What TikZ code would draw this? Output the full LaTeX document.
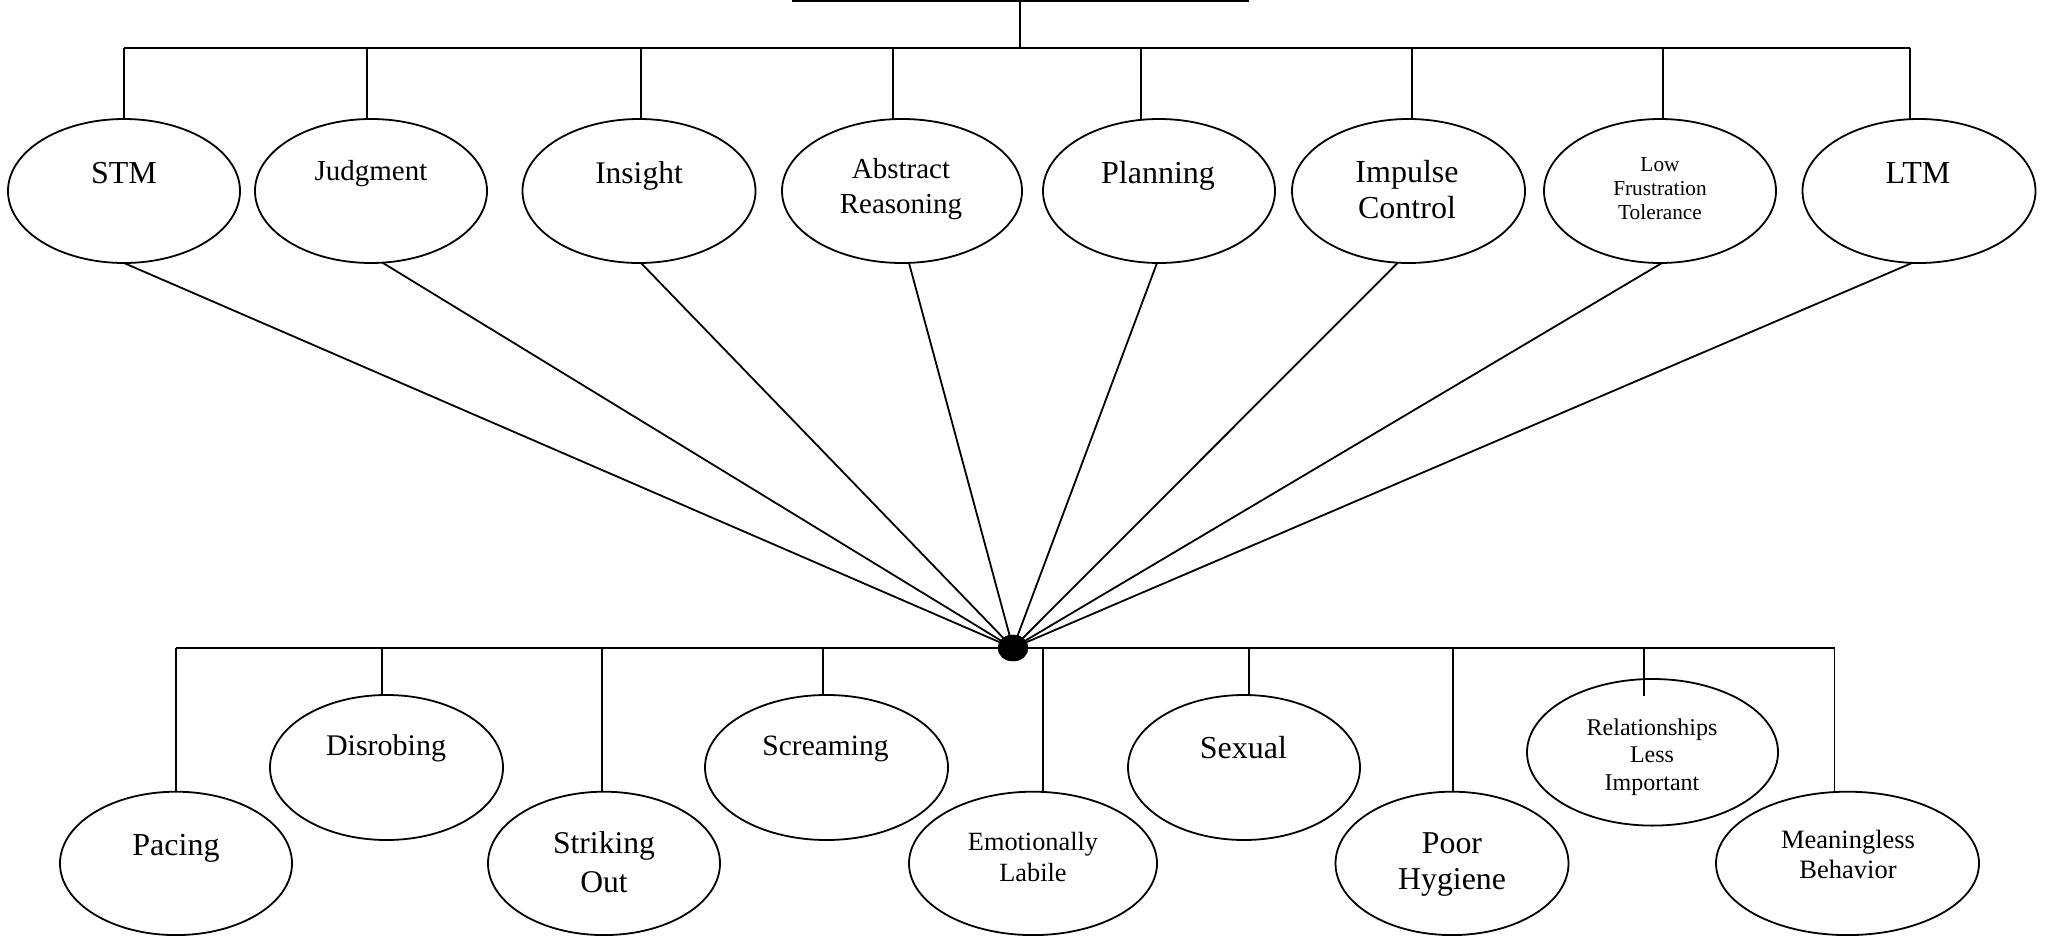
\documentclass[tikz,border=0pt]{standalone}
\usepackage{fontspec}
\setmainfont{Liberation Serif}
\usetikzlibrary{shapes.geometric,calc}
\tikzset{
  oval/.style={draw, ellipse, line width=1.8pt, inner sep=0pt, outer sep=0pt, fill=white},
  lbl/.style={inner sep=0pt, outer sep=0pt, align=center},
  conn/.style={line width=1.8pt},
  fs/.style n args={2}{font=\fontsize{#1}{#2}\selectfont},
}
\begin{document}
\begin{tikzpicture}[x=1pt,y=-1pt]
\useasboundingbox (0,0) rectangle (2046,936);

% ---------- top ellipses ----------
\node[oval, minimum width=232pt, minimum height=144pt] (stm)  at (124,191) {};
\node[oval, minimum width=232pt, minimum height=144pt] (judg) at (371,191) {};
\node[oval, minimum width=233pt, minimum height=144pt] (ins)  at (639,191) {};
\node[oval, minimum width=240pt, minimum height=144pt] (abs)  at (902,191) {};
\node[oval, minimum width=232pt, minimum height=144pt] (plan) at (1159,191) {};
\node[oval, minimum width=233pt, minimum height=144pt] (imp)  at (1408.5,191) {};
\node[oval, minimum width=232pt, minimum height=144pt] (low)  at (1660,191) {};
\node[oval, minimum width=233pt, minimum height=144pt] (ltm)  at (1919,191) {};

% ---------- top texts ----------
\node[lbl, fs={32}{38}, anchor=base] (stm-t)  at (124,183.7) {STM};
\node[lbl, fs={29}{35}, anchor=base] (judg-t) at (371,180.3) {Judgment};
\node[lbl, fs={31.5}{37}, anchor=base] (ins-t) at (639,183.7) {Insight};
\node[lbl, fs={29}{35}] (abs-t) at (901,189.5) {Abstract\\Reasoning};
\node[lbl, fs={32}{36.7}, anchor=base] (plan-t) at (1158,183.7) {Planning};
\node[lbl, fs={32}{36.7}] (imp-t) at (1407,189.5) {Impulse\\Control};
\node[lbl, fs={21.3}{24}] (low-t) at (1660,189) {Low\\Frustration\\Tolerance};
\node[lbl, fs={32}{38}, anchor=base] (ltm-t) at (1918,183.7) {LTM};

% ---------- bottom ellipses ----------
\node[oval, minimum width=232pt, minimum height=143.4pt] (pac)  at (176,863.4) {};
\node[oval, minimum width=233pt, minimum height=145pt]   (dis)  at (386.5,767.5) {};
\node[oval, minimum width=232pt, minimum height=143.4pt] (str)  at (604,863.4) {};
\node[oval, minimum width=243pt, minimum height=145pt]   (scr)  at (826.5,767.5) {};
\node[oval, minimum width=248pt, minimum height=143.4pt] (emo)  at (1033,863.4) {};
\node[oval, minimum width=232pt, minimum height=145pt]   (sex)  at (1244,767.5) {};
\node[oval, minimum width=233pt, minimum height=143.4pt] (poor) at (1452,863.4) {};
\node[oval, minimum width=251pt, minimum height=146.6pt] (rel)  at (1652.5,752.3) {};
\node[oval, minimum width=263pt, minimum height=143.4pt] (mea)  at (1847.5,863.4) {};

% ---------- bottom texts ----------
\node[lbl, fs={32}{38}, anchor=base] (pac-t) at (176,855) {Pacing};
\node[lbl, fs={30}{36}, anchor=base] (dis-t) at (386,755) {Disrobing};
\node[lbl, fs={31.6}{38.3}] (str-t) at (604,862.2) {Striking\\Out};
\node[lbl, fs={29.5}{35}, anchor=base] (scr-t) at (825.5,755) {Screaming};
\node[lbl, fs={26.3}{30.7}] (emo-t) at (1033,856.7) {Emotionally\\Labile};
\node[lbl, fs={32}{38}, anchor=base] (sex-t) at (1243.4,758.7) {Sexual};
\node[lbl, fs={31.8}{36.3}] (poor-t) at (1452,864.8) {Poor\\Hygiene};
\node[lbl, fs={24}{27.5}] (rel-t) at (1652,756.9) {Relationships\\Less\\Important};
\node[lbl, fs={26.5}{30}] (mea-t) at (1848,854.8) {Meaningless\\Behavior};

% ---------- top tree ----------
\coordinate (rootL) at (792,0.8);
\coordinate (rootR) at (1249,0.8);
\coordinate (rootM) at (1020,0.8);
\coordinate (t1) at (124,47.7);
\coordinate (t2) at (367,47.7);
\coordinate (t3) at (641,47.7);
\coordinate (t4) at (893,47.7);
\coordinate (t5) at (1141,47.7);
\coordinate (t6) at (1412,47.7);
\coordinate (t7) at (1663,47.7);
\coordinate (t8) at (1910,47.7);
\draw[line width=1.6pt] (rootL) -- (rootR);
\draw[conn] (rootM) -- (rootM |- t1);
\draw[conn] (t1) -- (t8);
\draw[conn] (t1) -- (t1 |- stm.north);
\draw[conn] (t2) -- (t2 |- judg.north);
\draw[conn] (t3) -- (t3 |- ins.north);
\draw[conn] (t4) -- (t4 |- abs.north);
\draw[conn] (t5) -- (t5 |- plan.north);
\draw[conn] (t6) -- (t6 |- imp.north);
\draw[conn] (t7) -- (t7 |- low.north);
\draw[conn] (t8) -- (t8 |- ltm.north);

% ---------- hub ----------
\node[ellipse, fill=black, draw=black, inner sep=0pt, minimum width=30pt, minimum height=26pt] (hub) at (1013,648) {};

% ---------- connectors to hub ----------
\draw[conn] (stm.south) -- (hub.center);
\draw[conn] ([xshift=12pt]judg.south) -- (hub.center);
\draw[conn] ([xshift=2pt]ins.south) -- (hub.center);
\draw[conn] ([xshift=7pt]abs.south) -- (hub.center);
\draw[conn] ([xshift=-2pt]plan.south) -- (hub.center);
\draw[conn] ([xshift=-11pt]imp.south) -- (hub.center);
\draw[conn] ([xshift=2pt]low.south) -- (hub.center);
\draw[conn] ([xshift=-7pt]ltm.south) -- (hub.center);

% ---------- bottom tree ----------
\coordinate (b1) at (176,648);
\coordinate (b2) at (382,648);
\coordinate (b3) at (602,648);
\coordinate (b4) at (823,648);
\coordinate (b5) at (1043,648);
\coordinate (b6) at (1248.6,648);
\coordinate (b7) at (1453,648);
\coordinate (b8) at (1644,648);
\coordinate (b8e) at (1644,696);
\coordinate (b9) at (1834.5,648);
\draw[conn] (b1) -- (b9);
\draw[conn] (b1) -- (b1 |- pac.north);
\draw[conn] (b2) -- (b2 |- dis.north);
\draw[conn] (b3) -- (b3 |- str.north);
\draw[conn] (b4) -- (b4 |- scr.north);
\draw[conn] (b5) -- (b5 |- emo.north);
\draw[conn] (b6) -- (b6 |- sex.north);
\draw[conn] (b7) -- (b7 |- poor.north);
\draw[conn] (b8) -- (b8e);
\draw[conn] (b9) -- (b9 |- mea.north);
\node[ellipse, fill=black, draw=black, inner sep=0pt, minimum width=30pt, minimum height=26pt] at (hub) {};
\end{tikzpicture}
\end{document}
